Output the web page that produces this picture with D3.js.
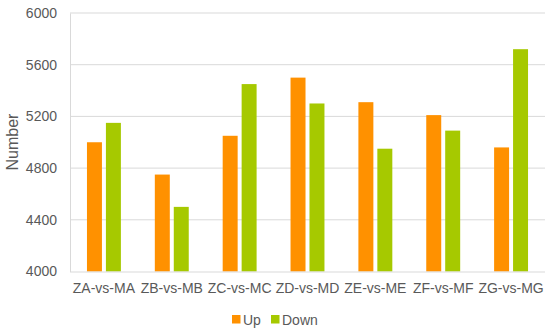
<!DOCTYPE html>
<html><head><meta charset="utf-8">
<script src="https://cdn.jsdelivr.net/npm/d3@7"></script>
<style>body{margin:0;background:#fff}svg{display:block;font-family:"Liberation Sans",Arial,sans-serif}</style>
</head><body><svg id="c" width="550" height="331"></svg>
<script>
const categories = ["ZA-vs-MA","ZB-vs-MB","ZC-vs-MC","ZD-vs-MD","ZE-vs-ME","ZF-vs-MF","ZG-vs-MG"];
const seriesNames = ["Up","Down"];
const upValues = [5000,4750,5050,5500,5310,5210,4960];
const downValues = [5150,4500,5450,5300,4950,5090,5720];
const yTicks = [4000,4400,4800,5200,5600,6000];
const colors = ["#FF9100","#A6C900"];

(function(){
const svg = d3.select("#c");
const mLeft = 70, mRight = 545, mTop = 13, mBottom = 271.5;
const x0 = d3.scaleBand().domain(categories).range([mLeft, mRight]).paddingInner(0.5).paddingOuter(0.25);
const x1 = d3.scaleBand().domain(seriesNames).range([0, x0.bandwidth()]).paddingInner(0.21);
const y = d3.scaleLinear().domain([4000, 6000]).range([mBottom, mTop]);
const textColor = "#595959", gridColor = "#D9D9D9";

svg.append("g").selectAll("line").data(yTicks.slice(1)).join("line")
  .attr("x1", mLeft).attr("x2", mRight).attr("y1", d => y(d)).attr("y2", d => y(d))
  .attr("stroke", gridColor).attr("stroke-width", 1);

const yAxis = svg.append("g").attr("transform", `translate(${mLeft},0)`)
  .call(d3.axisLeft(y).tickValues(yTicks).tickSize(0).tickPadding(13).tickFormat(d3.format("d")));
yAxis.select(".domain").attr("stroke", gridColor);
yAxis.selectAll("text").attr("fill", textColor).attr("font-size", 14).attr("font-family", "Liberation Sans, Arial, sans-serif");

const data = categories.map((c, i) => ({c, vals: [upValues[i], downValues[i]]}));
svg.append("g").selectAll("g").data(data).join("g")
  .attr("transform", d => `translate(${x0(d.c)},0)`)
  .selectAll("rect").data(d => d.vals.map((v, j) => ({k: seriesNames[j], v, j}))).join("rect")
  .attr("x", d => x1(d.k)).attr("width", x1.bandwidth())
  .attr("y", d => y(d.v)).attr("height", d => y(4000) - y(d.v))
  .attr("fill", d => colors[d.j]);

const xAxis = svg.append("g").attr("transform", `translate(0,${mBottom})`)
  .call(d3.axisBottom(x0).tickSize(0).tickPadding(12));
xAxis.select(".domain").attr("stroke", gridColor).attr("d", `M${mLeft},0.5H${mRight}`);
xAxis.selectAll("text").attr("fill", textColor).attr("font-size", 14).attr("font-family", "Liberation Sans, Arial, sans-serif");

svg.append("text").attr("transform", `translate(18,142) rotate(-90)`)
  .attr("text-anchor", "middle").attr("fill", textColor).attr("font-size", 16).text("Number");

const legendX = [232, 271];
const lg = svg.append("g").selectAll("g").data(seriesNames).join("g")
  .attr("transform", (d, i) => `translate(${legendX[i]},315)`);
lg.append("rect").attr("width", 8.5).attr("height", 8.5).attr("fill", (d, i) => colors[i]);
lg.append("text").attr("x", 11).attr("y", 9.5).attr("fill", textColor).attr("font-size", 14).text(d => d);
})();
</script></body></html>
